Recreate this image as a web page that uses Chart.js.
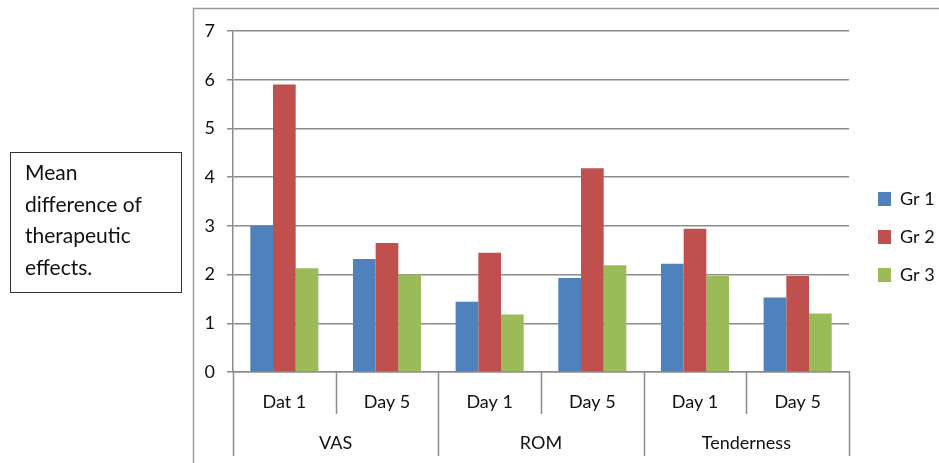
<!DOCTYPE html>
<html><head><meta charset="utf-8">
<script src="https://cdn.jsdelivr.net/npm/chart.js@4.4.1/dist/chart.umd.min.js"></script>
<style>
html,body{margin:0;padding:0;background:#fff;}
#wrap{position:relative;width:939px;height:463px;overflow:hidden;background:#fff;}
#c{position:absolute;left:0;top:0;}
#note{position:absolute;left:10px;top:152px;width:172px;height:141px;box-sizing:border-box;border:1.3px solid #333;
  font-family:Lato,"Liberation Sans",sans-serif;font-size:21px;line-height:31.5px;color:#111;padding:3px 0 0 14px;white-space:nowrap;}
</style></head>
<body><div id="wrap"><canvas id="c" width="939" height="463"></canvas>
<div id="note">Mean<br>difference of<br>therapeutic<br>effects.</div></div>
<script>
const categories = ['Dat 1','Day 5','Day 1','Day 5','Day 1','Day 5'];
const groups = ['VAS','ROM','Tenderness'];
const groupSizes = [2,2,2];
const seriesNames = ['Gr 1','Gr 2','Gr 3'];
const gr1 = [3.0, 2.32, 1.44, 1.93, 2.22, 1.53];
const gr2 = [5.9, 2.65, 2.45, 4.18, 2.94, 1.97];
const gr3 = [2.13, 2.0, 1.18, 2.19, 1.97, 1.2];
const yTicks = [0,1,2,3,4,5,6,7];

const FONT = 'Lato';
const GRID = '#8c8c8c';
const TXT = '#111';

const extras = {
  id:'extras',
  afterInit(chart){
    const lg = chart.legend;
    const orig = lg.fit;
    lg.fit = function(){ orig.call(this); this.width = 90; };
  },
  afterLayout(chart){
    const lg = chart.legend;
    const w = lg.width, h = lg.height;
    lg.left = chart.chartArea.right + 9; lg.right = lg.left + w;
    lg.top = 170; lg.bottom = lg.top + h;
  },
  beforeDraw(chart){
    const ctx = chart.ctx;
    ctx.save();
    ctx.fillStyle='#fff'; ctx.fillRect(0,0,chart.width,chart.height);
    ctx.strokeStyle='#9a9a9a'; ctx.lineWidth=1.5;
    ctx.strokeRect(193.5,8.5,900,600);
    ctx.restore();
  },
  afterDraw(chart){
    const ctx = chart.ctx, x = chart.scales.x, x2 = chart.scales.x2;
    const n = categories.length;
    const groupEdges = new Set([0]);
    let acc = 0; groupSizes.forEach(s=>{acc+=s; groupEdges.add(acc);});
    ctx.save();
    ctx.strokeStyle = GRID; ctx.lineWidth = 1.5;
    for(let i=0;i<=n;i++){
      const px = Math.round(x.getPixelForValue(i-0.5))+0.5;
      const yEnd = groupEdges.has(i) ? x2.bottom - 7 : x.bottom - 1;
      ctx.beginPath(); ctx.moveTo(px, x.top); ctx.lineTo(px, yEnd); ctx.stroke();
    }
    ctx.restore();
  }
};

new Chart(document.getElementById('c'), {
  type:'bar',
  data:{
    labels: categories,
    datasets:[
      {label:seriesNames[0], data:gr1, backgroundColor:'#4F81BD'},
      {label:seriesNames[1], data:gr2, backgroundColor:'#C0504D'},
      {label:seriesNames[2], data:gr3, backgroundColor:'#9BBB59'}
    ]
  },
  options:{
    responsive:false, animation:false, devicePixelRatio:1,
    layout:{padding:{left:193, top:31, right:0, bottom:0}},
    datasets:{bar:{categoryPercentage:0.663, barPercentage:1.0, borderWidth:0}},
    plugins:{
      legend:{position:'right', align:'start',
        labels:{boxWidth:13, boxHeight:14, padding:20, color:TXT, font:{family:FONT, size:18}}},
      tooltip:{enabled:false}
    },
    scales:{
      y:{min:0, max:7, weight:0,
        afterBuildTicks(s){ s.ticks = yTicks.map(v=>({value:v})); },
        afterFit(s){ s.width = 40; },
        grid:{color:GRID, lineWidth:1.5, tickLength:6, drawTicks:true},
        border:{color:GRID, width:1.5},
        ticks:{padding:12, color:TXT, font:{family:FONT, size:18}}
      },
      x:{weight:0, offset:true,
        afterFit(s){ s.height = 43; },
        grid:{display:false},
        border:{color:GRID, width:1.5},
        ticks:{padding:11, color:TXT, maxRotation:0, autoSkip:false, font:{family:FONT, size:18}}
      },
      x2:{type:'category', labels:groups, position:'bottom', weight:1, offset:true,
        afterFit(s){ s.height = 48; },
        grid:{display:false}, border:{display:false},
        ticks:{padding:9, color:TXT, maxRotation:0, autoSkip:false, font:{family:FONT, size:18}}
      }
    }
  },
  plugins:[extras]
});
</script></body></html>
